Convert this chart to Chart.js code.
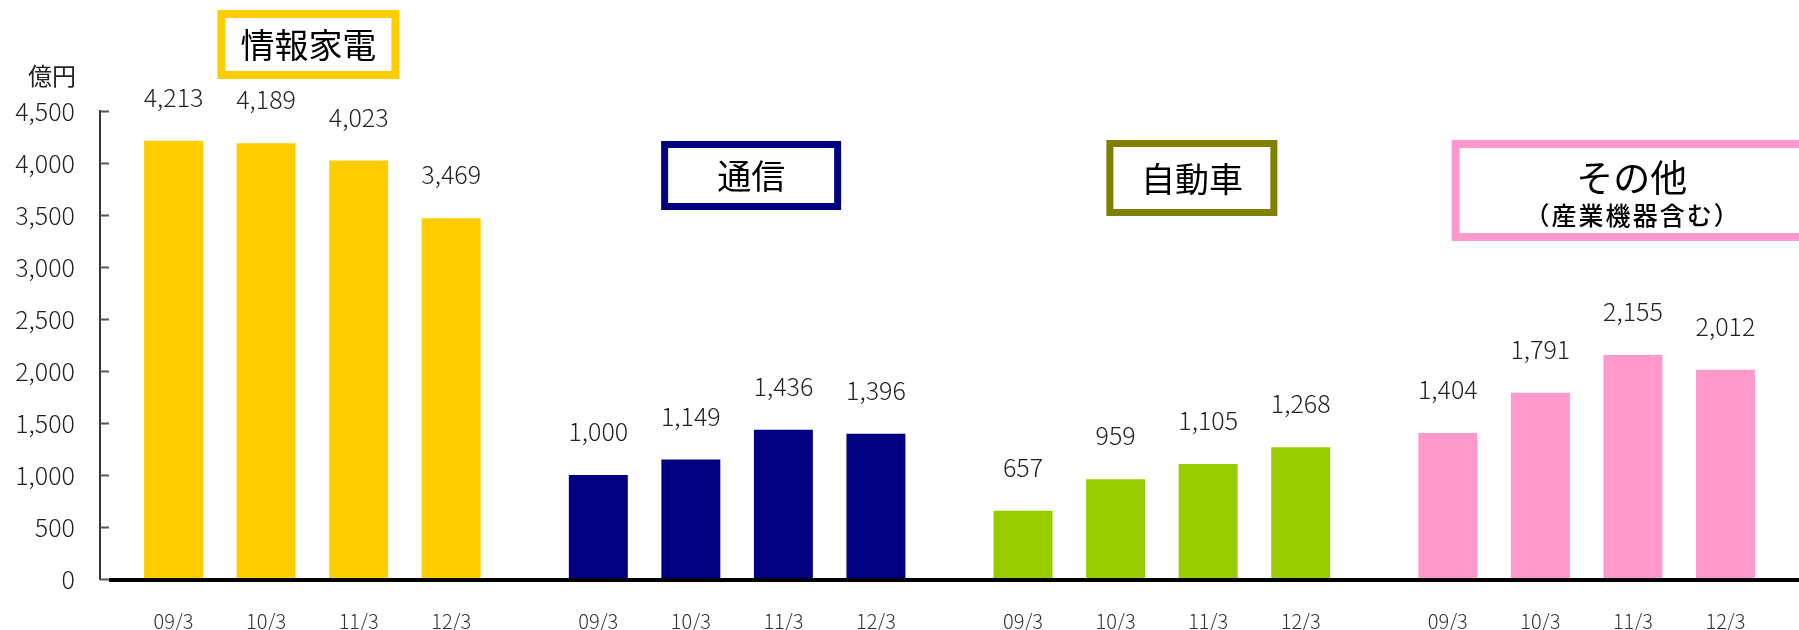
<!DOCTYPE html>
<html lang="ja">
<head>
<meta charset="utf-8">
<script src="https://cdn.jsdelivr.net/npm/chart.js@4"></script>
<style>
  html, body { margin: 0; padding: 0; background: #fff; }
  #chart { display: block; }
</style>
</head>
<body>
<canvas id="chart" width="1799" height="630"></canvas>
<script>
// 億円, 各年3月期
const groups = ['情報家電', '通信', '自動車', 'その他'];
const groupNotes = ['', '', '', '（産業機器含む）'];
const periods = ['09/3', '10/3', '11/3', '12/3'];
const kaden = [4213, 4189, 4023, 3469];
const tsushin = [1000, 1149, 1436, 1396];
const jidosha = [657, 959, 1105, 1268];
const sonota = [1404, 1791, 2155, 2012];
const unitLabel = '億円';
const yMin = 0;
const yMax = 4500;
const yStep = 500;

const groupColors = ['#FFCC00', '#000080', '#99CC00', '#FF99CC'];
const boxColors = ['#FFCC00', '#000080', '#808000', '#FF99CC'];
// box placement relative to the group centre: dx, top, width, height, border
const boxStyle = [
  { dx: -4, top: 10, w: 182, h: 69, lw: 8 },
  { dx: 14, top: 141, w: 180, h: 69, lw: 7 },
  { dx: 30, top: 140, w: 171, h: 76, lw: 7 },
  { dx: 45, top: 140, w: 360, h: 101, lw: 8 },
];

const FONT = '"Noto Sans CJK JP", "Noto Sans", sans-serif';
const fmt = v => v.toLocaleString('en-US');

const series = [kaden, tsushin, jidosha, sonota];
const datasets = periods.map((p, i) => ({
  label: p,
  data: series.map(s => s[i]),
  backgroundColor: groupColors,
  borderWidth: 0,
  categoryPercentage: 0.8715,
  barPercentage: 0.637,
}));

const decorations = {
  id: 'decorations',
  afterDraw(chart) {
    const ctx = chart.ctx;
    const y = chart.scales.y;
    const x = chart.scales.x;
    const area = chart.chartArea;
    ctx.save();

    // inward tick marks on the value axis
    ctx.strokeStyle = '#555';
    ctx.lineWidth = 2;
    for (let v = yMin; v <= yMax; v += yStep) {
      const py = Math.round(y.getPixelForValue(v)) + 0.5;
      ctx.beginPath();
      ctx.moveTo(area.left, py);
      ctx.lineTo(area.left + 9, py);
      ctx.stroke();
    }

    // thick base line
    const y0 = y.getPixelForValue(0);
    ctx.fillStyle = '#000';
    ctx.fillRect(area.left + 9, y0 - 1, area.right - area.left - 9, 4);

    // value labels and period labels
    chart.data.datasets.forEach((ds, di) => {
      const meta = chart.getDatasetMeta(di);
      meta.data.forEach((bar, gi) => {
        ctx.fillStyle = '#222';
        ctx.font = '300 25px ' + FONT;
        ctx.textAlign = 'center';
        ctx.textBaseline = 'alphabetic';
        ctx.fillText(fmt(ds.data[gi]), bar.x, bar.y - 34);
        ctx.fillStyle = '#333';
        ctx.font = '300 20px ' + FONT;
        ctx.textBaseline = 'middle';
        ctx.fillText(periods[di], bar.x, 621);
      });
    });

    // unit
    ctx.fillStyle = '#222';
    ctx.font = '24px ' + FONT;
    ctx.textAlign = 'center';
    ctx.textBaseline = 'middle';
    ctx.fillText(unitLabel, 52, 76);

    // group title boxes
    groups.forEach((g, gi) => {
      const s = boxStyle[gi];
      const cx = x.getPixelForValue(gi) + s.dx;
      const left = cx - s.w / 2;
      ctx.fillStyle = '#fff';
      ctx.fillRect(left, s.top, s.w, s.h);
      ctx.strokeStyle = boxColors[gi];
      ctx.lineWidth = s.lw;
      ctx.strokeRect(left + s.lw / 2, s.top + s.lw / 2, s.w - s.lw, s.h - s.lw);
      ctx.fillStyle = '#000';
      ctx.textAlign = 'center';
      ctx.textBaseline = 'middle';
      if (groupNotes[gi]) {
        ctx.font = '37px ' + FONT;
        ctx.fillText(g, cx, s.top + 38);
        ctx.font = '500 25px ' + FONT;
        ctx.letterSpacing = '2px';
        ctx.fillText(groupNotes[gi], cx + 1, s.top + 75);
        ctx.letterSpacing = '0px';
      } else {
        ctx.font = '34px ' + FONT;
        ctx.fillText(g, cx, s.top + s.h / 2 + 1);
      }
    });

    ctx.restore();
  }
};

new Chart(document.getElementById('chart'), {
  type: 'bar',
  data: { labels: groups, datasets },
  options: {
    responsive: false,
    animation: false,
    devicePixelRatio: 1,
    layout: { padding: { top: 111, right: 0, bottom: 0, left: 0 } },
    plugins: {
      legend: { display: false },
      tooltip: { enabled: false },
    },
    scales: {
      x: {
        grid: { display: false, drawTicks: false },
        border: { display: false },
        ticks: { display: false },
        afterFit: s => { s.height = 51; },
      },
      y: {
        min: yMin,
        max: yMax,
        grid: { display: false, drawTicks: false },
        border: { display: true, color: '#333', width: 2 },
        ticks: {
          stepSize: yStep,
          padding: 25,
          color: '#222',
          font: { family: FONT, size: 25, weight: '300' },
          callback: v => fmt(v),
        },
        afterFit: s => { s.width = 100; },
      },
    },
  },
  plugins: [decorations],
});
</script>
</body>
</html>
